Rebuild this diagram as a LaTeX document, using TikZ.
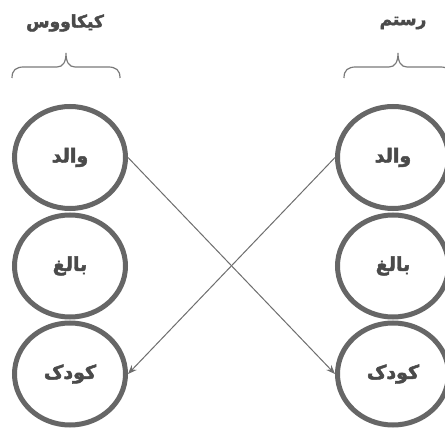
\documentclass[tikz,border=0pt]{standalone}
\usepackage{fontspec}
\newfontfamily\arabicfont[Script=Arabic, BoldFeatures={FakeBold=2.5}]{DejaVu Sans}
\TeXXeTstate=1
\usetikzlibrary{arrows.meta,shapes.geometric}
\definecolor{ringgray}{HTML}{666666}
\definecolor{txtgray}{HTML}{4A4A4A}
\definecolor{linegray}{HTML}{6E6E6E}
\definecolor{bracegray}{HTML}{7A7A7A}
\begin{document}
\begin{tikzpicture}[x=1pt,y=-1pt,
  ring/.style={draw=ringgray, line width=5pt, ellipse, minimum width=111pt, minimum height=102pt, inner sep=0pt,
    font=\arabicfont\bfseries\fontsize{19}{22}\selectfont, text=txtgray},
  title/.style={font=\arabicfont\bfseries\fontsize{17}{20}\selectfont, text=txtgray, inner sep=0pt},
  link/.style={draw=linegray, line width=1pt, -{Stealth[length=9pt,width=7pt]}},
  bracestroke/.style={draw=bracegray, line width=1.2pt}]
\useasboundingbox (0,0) rectangle (445,430);
\clip (0,0) rectangle (445,430);
\fill[white] (0,0) rectangle (445,430);

\node[title] (tL) at (65,23) {\beginR کیکاووس\endR};
\node[title] (tR) at (403,23) {\beginR رستم\endR};

\draw[bracestroke] (12,78) .. controls (12,70) and (16,67) .. (24,67) -- (57,67)
  .. controls (63,67) and (66,62) .. (66,53) .. controls (66,62) and (69,67) .. (75,67)
  -- (108,67) .. controls (116,67) and (120,70) .. (120,78);
\draw[bracestroke] (344,78) .. controls (344,70) and (348,67) .. (356,67) -- (389,67)
  .. controls (395,67) and (398,62) .. (398,53) .. controls (398,62) and (401,67) .. (407,67)
  -- (440,67) .. controls (448,67) and (452,70) .. (452,78);

\node[ring] (L1) at (70,157.5) {\beginR والد\endR};
\node[ring] (L2) at (70,266) {\beginR بالغ\endR};
\node[ring] (L3) at (70,374) {\beginR کودک\endR};
\node[ring] (R1) at (393,157.5) {\beginR والد\endR};
\node[ring] (R2) at (393,266) {\beginR بالغ\endR};
\node[ring] (R3) at (393,374) {\beginR کودک\endR};

\draw[link] (L1.east) -- (R3.west);
\draw[link] (R1.west) -- (L3.east);
\end{tikzpicture}
\end{document}
